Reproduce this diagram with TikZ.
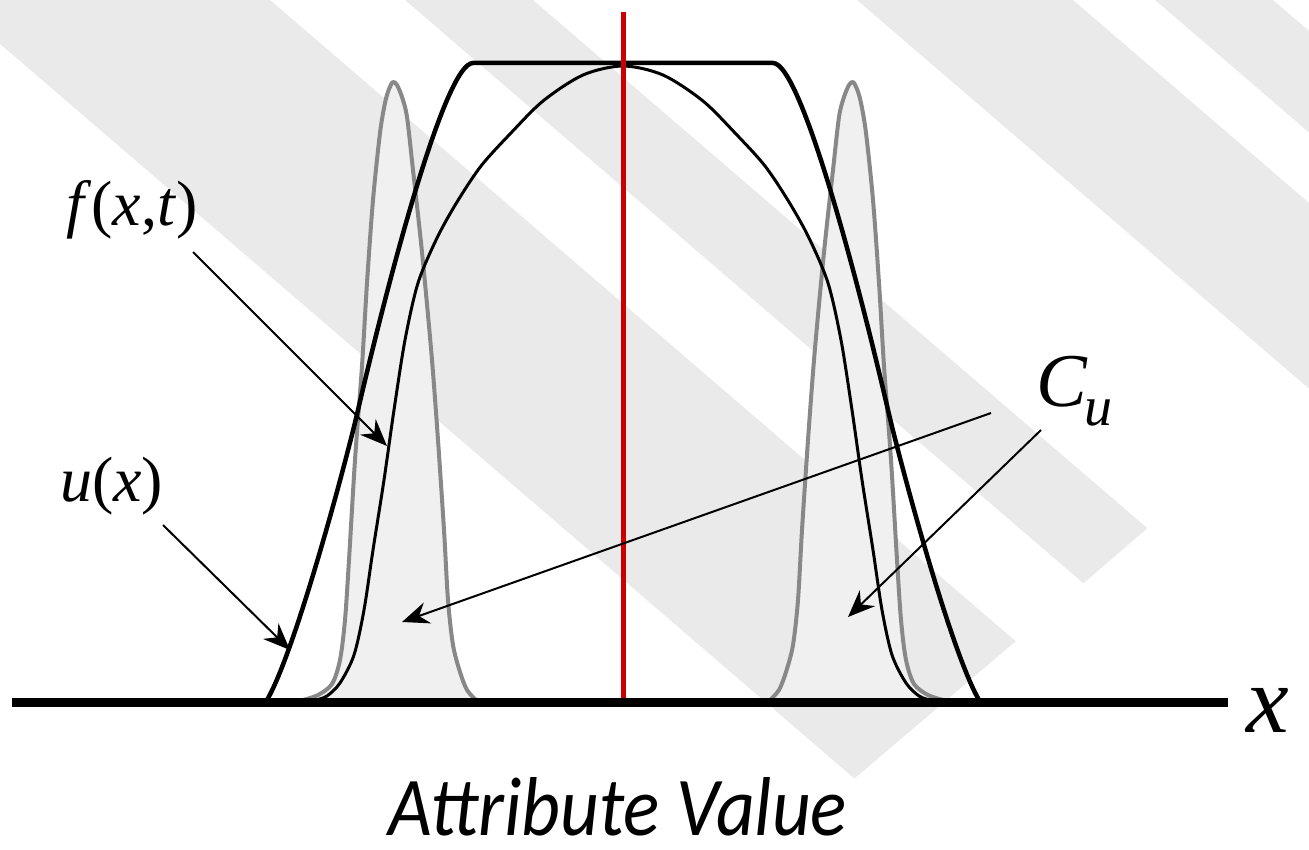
\documentclass[tikz,border=0pt]{standalone}
\usepackage{fontspec}
\setmainfont{Liberation Serif}
\newfontfamily\attrfont{Carlito}
\usetikzlibrary{arrows.meta}
\definecolor{stripe}{HTML}{EAEAEA}
\definecolor{spikefill}{HTML}{F0F0F0}
\definecolor{spikeline}{HTML}{888888}
\definecolor{redline}{HTML}{CC0000}
\begin{document}
\begin{tikzpicture}[x=1pt,y=-1pt,
  arr/.style={line width=2pt,-{Stealth[length=27pt,width=22pt,inset=9pt]}},
  lbl/.style={inner sep=0pt,anchor=base west},
  spikestyle/.style={draw=spikeline,line width=4pt,fill=spikefill,line join=round},
  thickcurve/.style={draw=black,line width=4.5pt,line join=round},
  thincurve/.style={draw=black,line width=3pt,line join=round},
  stripefill/.style={fill=stripe}]
\useasboundingbox (0,0) rectangle (1309,850);
% background stripes
\begin{scope}
\clip (0,0) rectangle (1309,850);
\fill[stripefill] (-62.6,-10) -- (258.4,-10) -- (1015.7,641.2) -- (854.4,778.5) -- cycle;
\fill[stripefill] (393.4,-10) -- (521.4,-10) -- (1147.4,528.3) -- (1083.4,583.3) -- cycle;
\fill[stripefill] (845.4,-10) -- (1061.4,-10) -- (1654.5,500) -- (1438.5,500) -- cycle;
\fill[stripefill] (1143.4,-10) -- (1261.4,-10) -- (1621.9,300) -- (1503.9,300) -- cycle;
\end{scope}
% left spike
\path[spikestyle] plot[smooth,tension=0.5] coordinates {
 (303,700) (318,695) (332,684) (340,660) (345,620) (349,560) (355,460) (362,366)
 (367,283) (373,200) (380,133) (385,103) (389,89) (393,82) (397,85) (402,97)
 (407,117) (413,170) (420,233) (425,283) (432,360) (438,440) (444,530) (448,600)
 (453,645) (460,672) (467,690) (476,700)} -- cycle;
% right spike (mirror)
\path[spikestyle] plot[smooth,tension=0.5] coordinates {
 (770,700) (779,690) (786,672) (793,645) (798,600) (802,530) (808,440) (814,360)
 (821,283) (826,233) (833,170) (839,117) (844,97) (849,85) (853,82) (857,89)
 (861,103) (866,133) (873,200) (879,283) (884,366) (891,460) (897,560) (901,620)
 (906,660) (914,684) (928,695) (943,700)} -- cycle;
% flat-top curve u(x)
\coordinate (Fl) at (267,700);
\coordinate (Fr) at (979,700);
\draw[thickcurve] (Fl) .. controls (295,652) and (345,466) .. (358,410)
  .. controls (388,281) and (445,63) .. (473,63) -- (773,63)
  .. controls (801,63) and (858,281) .. (888,410)
  .. controls (901,466) and (951,652) .. (Fr);
% dome curve f(x,t)
\draw[thincurve] plot[smooth,tension=0.5] coordinates {
 (316,700) (327,696) (340,683) (354,655) (364,610) (373,550) (384,480) (394,410)
 (405,340) (418,283) (437,238) (457,202) (481,166) (510,134) (543,101) (583,75) (623,66)
 (663,75) (703,101) (736,134) (765,166) (789,202) (809,238) (828,283) (841,340)
 (852,410) (862,480) (873,550) (882,610) (892,655) (906,683) (919,696) (930,700)};
% red vertical line
\coordinate (rtop) at (623,12);
\coordinate (rbot) at (623,700);
\draw[redline,line width=5pt] (rtop) -- (rbot);
% axis
\coordinate (axL) at (12,702.5);
\coordinate (axR) at (1228,702.5);
\draw[line width=8.5pt] (axL) -- (axR);
% labels
\node[lbl,font=\fontsize{64}{70}\selectfont] (flab) at (66,226) {\textit{f}(\textit{x},\textit{t})};
\node[lbl,font=\fontsize{64}{70}\selectfont] (ulab) at (60,501) {\textit{u}(\textit{x})};
\node[lbl,font=\fontsize{76}{80}\selectfont] (Clab) at (1036,406) {\textit{C}};
\node[lbl,font=\fontsize{56}{60}\selectfont] (usub) at (1084,425) {\textit{u}};
\node[lbl,font=\fontsize{96}{100}\selectfont] (xlab) at (1246,732) {\textit{x}};
\node[inner sep=0pt,anchor=base] (attr) at (618,835) {\resizebox{458pt}{58pt}{\attrfont\itshape Attribute Value}};
% arrows
\coordinate (fS) at (193,252);
\coordinate (fE) at (387,446);
\coordinate (uS) at (163,525);
\coordinate (uE) at (290,650);
\coordinate (cS1) at (991,413);
\coordinate (cE1) at (402,622);
\coordinate (cS2) at (1041,430);
\coordinate (cE2) at (848,617);
\draw[arr] (fS) -- (fE);
\draw[arr] (uS) -- (uE);
\draw[arr] (cS1) -- (cE1);
\draw[arr] (cS2) -- (cE2);
\end{tikzpicture}
\end{document}
